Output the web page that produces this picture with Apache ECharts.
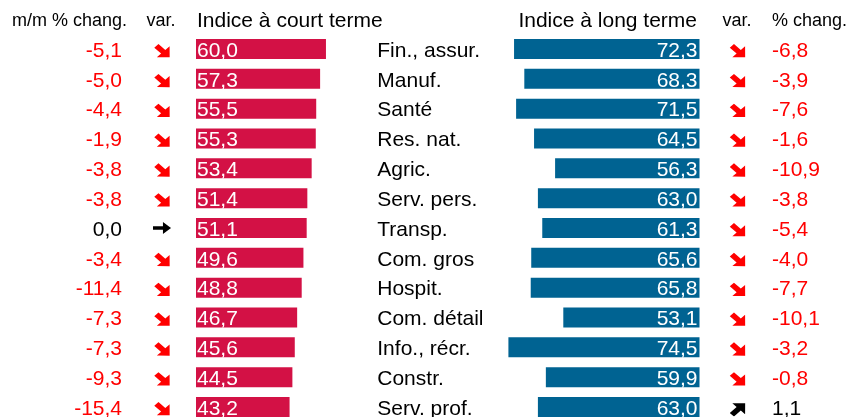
<!DOCTYPE html>
<html>
<head>
<meta charset="utf-8">
<script src="https://cdn.jsdelivr.net/npm/echarts@6.0.0/dist/echarts.min.js"></script>
<style>
  html, body { margin: 0; padding: 0; background: #fff; }
  #chart { width: 849px; height: 417px; }
</style>
</head>
<body>
<div id="chart"></div>
<script>
// secteurs
var categories = ['Fin., assur.', 'Manuf.', 'Santé', 'Res. nat.', 'Agric.', 'Serv. pers.', 'Transp.',
    'Com. gros', 'Hospit.', 'Com. détail', 'Info., récr.', 'Constr.', 'Serv. prof.'];
// indice à court terme + variation m/m %
var shortIndex = [60.0, 57.3, 55.5, 55.3, 53.4, 51.4, 51.1, 49.6, 48.8, 46.7, 45.6, 44.5, 43.2];
var shortChange = [-5.1, -5.0, -4.4, -1.9, -3.8, -3.8, 0.0, -3.4, -11.4, -7.3, -7.3, -9.3, -15.4];
// indice à long terme + % chang.
var longIndex = [72.3, 68.3, 71.5, 64.5, 56.3, 63.0, 61.3, 65.6, 65.8, 53.1, 74.5, 59.9, 63.0];
var longChange = [-6.8, -3.9, -7.6, -1.6, -10.9, -3.8, -5.4, -4.0, -7.7, -10.1, -3.2, -0.8, 1.1];

var FONT = '"Liberation Sans", Arial, sans-serif';
var RED = '#ff0000';

function fmt(v) {
    return v.toFixed(1).replace('.', ',');
}

// flèches épaisses (style wingdings), centrées et un peu plus bas que le milieu
function arrowImg(color, angle) {
    var svg = '<svg xmlns="http://www.w3.org/2000/svg" width="44" height="40" viewBox="0 0 20 20" preserveAspectRatio="none">' +
        '<g transform="translate(1.6 ' + (angle > 0 ? 3.4 : 1.4) + ') rotate(' + angle + ' 10 10)">' +
        '<path d="M0.5,7.3 H9.3 V1.8 L17.6,10 L9.3,18.2 V12.7 H0.5 Z" fill="' + color + '"/></g></svg>';
    return 'data:image/svg+xml;charset=utf-8,' + encodeURIComponent(svg);
}
var flatArrow = (function () {
    var svg = '<svg xmlns="http://www.w3.org/2000/svg" width="40" height="26" viewBox="0 0 20 13">' +
        '<path d="M0.5,4.6 H11 V0.3 L19.5,6.5 L11,12.7 V8.4 H0.5 Z" fill="#000"/></svg>';
    return 'data:image/svg+xml;charset=utf-8,' + encodeURIComponent(svg);
})();

function arrowOf(v) {
    if (v < 0) return '{dn| }';
    if (v > 0) return '{up| }';
    return '{eq| }';
}
function chgLabel(v) {
    return v < 0 ? '{neg|' + fmt(v) + '}' : '{pos|' + fmt(v) + '}';
}

var chgRich = {
    neg: { color: RED, fontSize: 21, fontFamily: FONT, padding: [4, 0, 0, 0] },
    pos: { color: '#000', fontSize: 21, fontFamily: FONT, padding: [4, 0, 0, 0] }
};
var arrowRich = {
    dn: { width: 22, height: 19, backgroundColor: { image: arrowImg(RED, 45) } },
    up: { width: 22, height: 19, backgroundColor: { image: arrowImg('#000', -45) } },
    eq: { width: 19, height: 12.5, backgroundColor: { image: flatArrow } }
};

var myChart = echarts.init(document.getElementById('chart'), null, { renderer: 'canvas' });

var rowTop = 34.1, rowsHeight = 387.8;
var maxVal = 80;

function hiddenCatAxis(gridIndex, extra) {
    var ax = {
        type: 'category',
        gridIndex: gridIndex,
        data: categories,
        inverse: true,
        axisLine: { show: false },
        axisTick: { show: false },
        splitLine: { show: false },
        axisLabel: { show: false }
    };
    for (var k in extra) ax[k] = extra[k];
    return ax;
}

var option = {
    animation: false,
    backgroundColor: '#fff',
    grid: [
        { left: 196, top: rowTop, width: maxVal * 2.166, height: rowsHeight, outerBoundsMode: 'none' },
        { left: 699.5 - maxVal * 2.565, top: rowTop, width: maxVal * 2.565, height: rowsHeight, outerBoundsMode: 'none' }
    ],
    xAxis: [
        { type: 'value', gridIndex: 0, min: 0, max: maxVal, show: false },
        { type: 'value', gridIndex: 1, min: 0, max: maxVal, inverse: true, show: false }
    ],
    yAxis: [
        // noms des secteurs
        hiddenCatAxis(0, {
            position: 'right',
            axisLabel: {
                show: true, interval: 0, margin: 8, align: 'left',
                formatter: function (v) { return '{c|' + v + '}'; },
                rich: { c: { color: '#000', fontSize: 21, fontFamily: FONT, padding: [4, 0, 0, 0] } }
            }
        }),
        // m/m % chang.
        hiddenCatAxis(0, {
            position: 'left', offset: 66,
            axisLabel: {
                show: true, interval: 0, margin: 8, align: 'right',
                formatter: function (v, i) { return chgLabel(shortChange[i]); },
                rich: chgRich
            }
        }),
        // var. court terme
        hiddenCatAxis(0, {
            position: 'left', offset: 26,
            axisLabel: {
                show: true, interval: 0, margin: 8, align: 'center',
                formatter: function (v, i) { return arrowOf(shortChange[i]); },
                rich: arrowRich
            }
        }),
        hiddenCatAxis(1, { position: 'left' }),
        // var. long terme
        hiddenCatAxis(1, {
            position: 'right', offset: 30,
            axisLabel: {
                show: true, interval: 0, margin: 8, align: 'center',
                formatter: function (v, i) { return arrowOf(longChange[i]); },
                rich: arrowRich
            }
        }),
        // % chang. long terme
        hiddenCatAxis(1, {
            position: 'right', offset: 64.5,
            axisLabel: {
                show: true, interval: 0, margin: 8, align: 'left',
                formatter: function (v, i) { return chgLabel(longChange[i]); },
                rich: chgRich
            }
        })
    ],
    graphic: [
        { type: 'text', x: 127, y: 21.4, style: { text: 'm/m % chang.', fill: '#000', font: '18px ' + FONT, align: 'right', verticalAlign: 'middle' } },
        { type: 'text', x: 161, y: 21.4, style: { text: 'var.', fill: '#000', font: '18px ' + FONT, align: 'center', verticalAlign: 'middle' } },
        { type: 'text', x: 197, y: 20.8, style: { text: 'Indice à court terme', fill: '#000', font: '21px ' + FONT, align: 'left', verticalAlign: 'middle' } },
        { type: 'text', x: 697, y: 20.8, style: { text: 'Indice à long terme', fill: '#000', font: '21px ' + FONT, align: 'right', verticalAlign: 'middle' } },
        { type: 'text', x: 737, y: 21.4, style: { text: 'var.', fill: '#000', font: '18px ' + FONT, align: 'center', verticalAlign: 'middle' } },
        { type: 'text', x: 772, y: 21.4, style: { text: '% chang.', fill: '#000', font: '18px ' + FONT, align: 'left', verticalAlign: 'middle' } }
    ],
    series: [
        {
            name: 'Indice à court terme',
            type: 'bar',
            xAxisIndex: 0,
            yAxisIndex: 0,
            barWidth: 20,
            itemStyle: { color: '#d31145' },
            label: {
                show: true,
                position: 'insideLeft',
                distance: 1,
                offset: [0, 2],
                color: '#fff',
                fontSize: 21,
                fontFamily: FONT,
                formatter: function (p) { return fmt(p.value); }
            },
            data: shortIndex
        },
        {
            name: 'Indice à long terme',
            type: 'bar',
            xAxisIndex: 1,
            yAxisIndex: 3,
            barWidth: 20,
            itemStyle: { color: '#006392' },
            label: {
                show: true,
                position: 'insideRight',
                distance: 2,
                offset: [0, 2],
                color: '#fff',
                fontSize: 21,
                fontFamily: FONT,
                formatter: function (p) { return fmt(p.value); }
            },
            data: longIndex
        }
    ]
};

myChart.setOption(option);
window.addEventListener('resize', function () { myChart.resize(); });
</script>
</body>
</html>
